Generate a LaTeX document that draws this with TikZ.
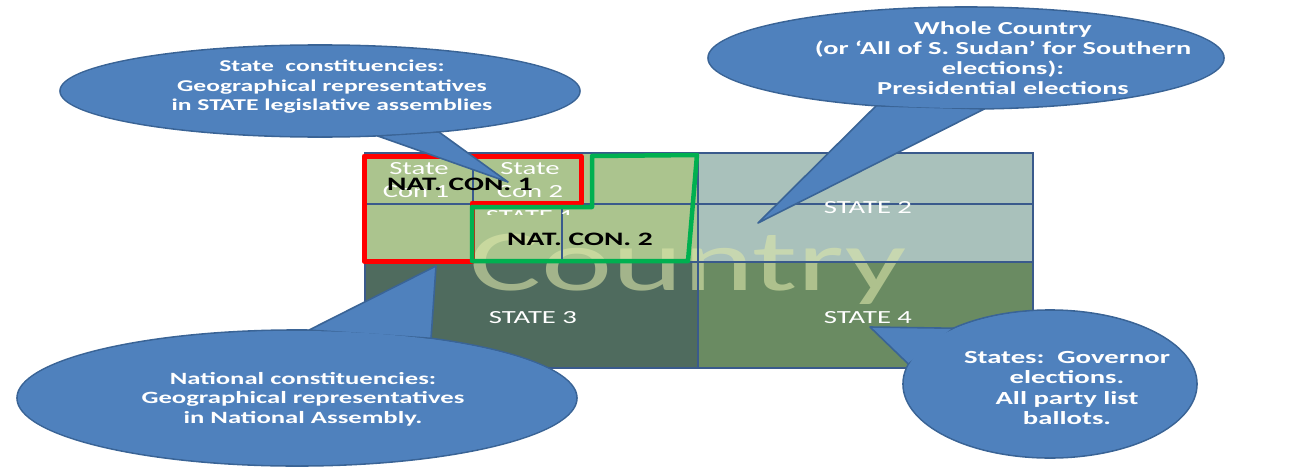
\documentclass[tikz,border=0pt]{standalone}
\usepackage{fontspec}
\setmainfont{Carlito}
\newfontfamily\cf[FakeStretch=1.55]{Carlito}
\usetikzlibrary{shapes.geometric}
\definecolor{sone}{HTML}{ABC48E}
\definecolor{stwo}{HTML}{A9C1BB}
\definecolor{sthree}{HTML}{4F6B5E}
\definecolor{sfour}{HTML}{6A8B62}
\definecolor{gridc}{HTML}{3A5A8C}
\definecolor{cfill}{HTML}{4F81BD}
\definecolor{cline}{HTML}{3A6496}
\definecolor{natgreen}{HTML}{00B050}
\definecolor{ctry}{HTML}{DCE6AA}
\tikzset{
  gridline/.style={draw=gridc, line width=1.2pt},
  bubble/.style={ellipse, fill=cfill, draw=cline, line width=1.6pt, inner sep=0pt, outer sep=0pt},
  wedge/.style={fill=cfill, draw=cline, line width=1.6pt, line join=round},
  refill/.style={fill=cfill},
  ctext/.style={text=white, align=center, font=\cf\bfseries\fontsize{16.5}{19.5}\selectfont},
  slabel/.style={text=white, font=\cf\fontsize{18.5}{20}\selectfont},
  natlabel/.style={text=black, font=\cf\bfseries\fontsize{19}{20}\selectfont},
}
\begin{document}
\begin{tikzpicture}[x=1pt,y=-1pt]
\useasboundingbox (0,0) rectangle (1306,471);
% state fills
\fill[sone] (365,153) rectangle (698,262);
\fill[stwo] (698,153) rectangle (1033,262);
\fill[sthree] (365,262) rectangle (698,368);
\fill[sfour] (698,262) rectangle (1033,368);
% country watermark
\node[text=ctry, text opacity=0.6, font=\cf\fontsize{87}{90}\selectfont, inner sep=0pt, anchor=base] (country) at (688,290) {Country};
% grid lines
\draw[gridline] (365,153) rectangle (1033,368);
\draw[gridline] (365,204) -- (1033,204);
\draw[gridline] (365,262) -- (1033,262);
\draw[gridline] (698,153) -- (698,368);
\draw[gridline] (473,153) -- (473,262);
\draw[gridline] (562,204) -- (562,262);
% small labels
\node[slabel] (st1a) at (419,169) {State};
\node[slabel] (st1b) at (416,192) {Con 1};
\node[slabel] (st2a) at (530,169) {State};
\node[slabel] (st2b) at (530,192) {Con 2};
\begin{scope}
\clip (470,205) rectangle (700,214);
\node[slabel] (state1) at (530,217) {STATE 1};
\end{scope}
\node[slabel] (state2) at (868,208) {STATE 2};
\node[slabel] (state3) at (533,318) {STATE 3};
\node[slabel] (state4) at (868,318) {STATE 4};
% constituency outlines
\draw[red, line width=5pt, line join=round] (364,156) -- (581,156) -- (581,203) -- (472,203) -- (472,261) -- (364,261) -- cycle;
\draw[natgreen, line width=4.5pt, line join=round] (472,261) -- (472,207) -- (592,207) -- (592,156) -- (697,155) -- (688,261) -- cycle;
\node[natlabel] (nc1) at (460,184) {NAT. CON. 1};
\node[natlabel] (nc2) at (580,239) {NAT. CON. 2};
% callouts: ellipse + wedge to a pointer tip
\node[bubble, minimum width=520pt, minimum height=92pt] (b1) at (320,91) {};
\coordinate (p1) at (508,182);
\path[wedge] (b1.-38) -- (p1) -- (b1.-19) -- cycle;
\fill[refill] (b1.center) ellipse (259 and 45);
\node[ctext] (t1) at (332,87) {State\ \ constituencies:\\Geographical representatives\\in STATE legislative assemblies};

\node[bubble, minimum width=516pt, minimum height=102pt] (b2) at (966,58) {};
\coordinate (p2) at (758,223);
\path[wedge] (b2.-152) -- (p2) -- (b2.-70) -- cycle;
\fill[refill] (b2.center) ellipse (257 and 50);
\node[ctext, font=\cf\bfseries\fontsize{18.3}{20}\selectfont] (t2) at (1003,58) {Whole Country\\(or ‘All of S. Sudan’ for Southern\\elections):\\Presidential elections};

\node[bubble, minimum width=560pt, minimum height=136pt] (b3) at (297,398) {};
\coordinate (p3) at (436,266);
\path[wedge] (b3.80) -- (p3) -- (b3.24) -- cycle;
\fill[refill] (b3.center) ellipse (279 and 67);
\node[ctext, font=\cf\bfseries\fontsize{17.2}{19.5}\selectfont] (t3) at (303,399) {National constituencies:\\Geographical representatives\\in National Assembly.};

\node[bubble, minimum width=294pt, minimum height=148pt] (b4) at (1050,384) {};
\coordinate (p4) at (870,327);
\path[wedge] (b4.150) -- (p4) -- (b4.172) -- cycle;
\fill[refill] (b4.center) ellipse (146 and 73);
\node[ctext, font=\cf\bfseries\fontsize{18.5}{20.5}\selectfont] (t4) at (1067,388) {States:\ \ Governor\\elections.\\All party list\\ballots.};
\end{tikzpicture}
\end{document}
